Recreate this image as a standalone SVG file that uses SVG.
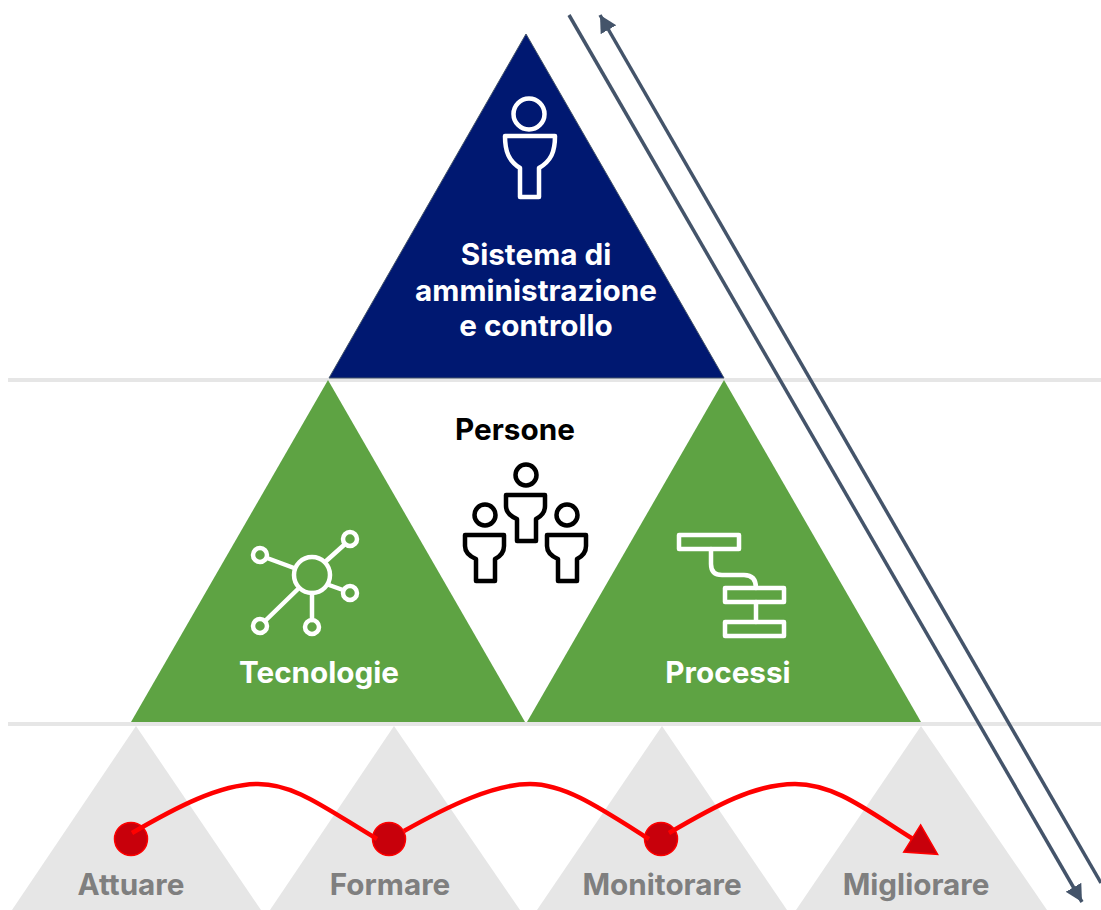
<svg xmlns="http://www.w3.org/2000/svg" width="1101" height="910" viewBox="0 0 1101 910">
<defs>
<marker id="slate" markerUnits="userSpaceOnUse" markerWidth="20" markerHeight="20" refX="17" refY="9" orient="auto"><path d="M0 0L17 9L0 18Z" fill="#44546a"/></marker>
<marker id="red" markerUnits="userSpaceOnUse" markerWidth="36" markerHeight="38" refX="3" refY="18" orient="auto"><path d="M2 2L32 18L2 34Z" fill="#c8000b" stroke="#ff0000" stroke-width="1.5"/></marker>
</defs>
<style>
text{font-family:Inter,"Liberation Sans",sans-serif;font-weight:700;text-anchor:middle;font-size:29.7px}
.w{fill:#fff}
.g{fill:#7f7f7f}
.rule{stroke:#e6e6e6;stroke-width:4;fill:none}
.tg{fill:#e6e6e6}
.tv{fill:#5ea343}
.iw{fill:none;stroke:#fff;stroke-width:4.5;stroke-linejoin:round;stroke-linecap:round}
.ib{fill:none;stroke:#000;stroke-width:4.5;stroke-linejoin:round;stroke-linecap:round}
.dot{fill:#c8000b;stroke:#ff0000;stroke-width:1.5}
.arrow{fill:none;stroke:#44546a;stroke-width:3.5}
</style>
<g id="rules">
<path class="rule" d="M8 380H1101M8 724H1101"/>
</g>
<g id="node-attuare"><path class="tg" d="M136 726L261 910H12Z"/><text class="g" x="131" y="895">Attuare</text></g>
<g id="node-formare"><path class="tg" d="M394 726L520 910H270Z"/><text class="g" x="390" y="895">Formare</text></g>
<g id="node-monitorare"><path class="tg" d="M662 726L787 910H537Z"/><text class="g" x="662" y="895">Monitorare</text></g>
<g id="node-migliorare"><path class="tg" d="M921 726L1047 910H796Z"/><text class="g" x="916" y="895">Migliorare</text></g>
<g id="node-sistema">
<path d="M526 34L724 378H329Z" fill="#001871" stroke="#44546a" stroke-width="1"/>
<circle class="iw" cx="529" cy="114" r="15.5"/>
<path class="iw" d="M505 136H555C555 152 551 161 539 168V197H520V168C509 161 505 152 505 136Z"/>
<text class="w" x="536" y="265">Sistema di</text>
<text class="w" x="536" y="301">amministrazione</text>
<text class="w" x="536" y="336">e controllo</text>
</g>
<g id="node-tecnologie">
<path class="tv" d="M328 380L525 722H131Z"/>
<g class="iw">
<circle cx="312" cy="575" r="18"/>
<circle cx="260" cy="555" r="7"/>
<circle cx="350" cy="539" r="7"/>
<circle cx="350" cy="593" r="7"/>
<circle cx="260" cy="626" r="7"/>
<circle cx="312" cy="627" r="7"/>
<path d="M267 558L294 568M325 562L344 545M329 585L343 590M298 589L265 621M312 593V620"/>
</g>
<text class="w" x="319" y="683">Tecnologie</text>
</g>
<g id="node-persone">
<text x="515" y="440" fill="#000">Persone</text>
<g class="ib">
<circle cx="526" cy="475" r="10.5"/>
<path d="M506 495H545V506C545 512 542 516 536 519V541H517V519C510 516 506 512 506 506Z"/>
<circle cx="485" cy="515" r="10.5"/>
<path d="M465 535H504V546C504 552 501 556 495 559V581H476V559C469 556 465 552 465 546Z"/>
<circle cx="567" cy="515" r="10.5"/>
<path d="M547 535H586V546C586 552 583 556 577 559V581H558V559C551 556 547 552 547 546Z"/>
</g>
</g>
<g id="node-processi">
<path class="tv" d="M724 380L921 722H527Z"/>
<g class="iw">
<rect x="679" y="535" width="60" height="14"/>
<rect x="725" y="588" width="59" height="14"/>
<rect x="725" y="622" width="59" height="14"/>
<path d="M711 549V564Q711 575 722 575H744Q756 575 756 588M756 602V622"/>
</g>
<text class="w" x="728" y="683">Processi</text>
</g>
<g id="connectors">
<path class="arrow" d="M569 15L1082 902" marker-end="url(#slate)"/>
<path class="arrow" d="M1101 883L600 15" marker-end="url(#slate)"/>
<circle class="dot" cx="131" cy="839" r="16.5"/>
<circle class="dot" cx="389" cy="839" r="16.5"/>
<circle class="dot" cx="661" cy="839" r="16.5"/>
<g fill="none" stroke="#ff0000" stroke-width="4.5">
<path d="M132 833C175 808 220 784 258 784C295 784 325 808 377 839"/>
<path d="M404 831C450 805 495 784 530 784C565 784 600 808 649 839"/>
<path d="M669 833C715 806 755 784 795 784C835 784 868 811 913 839" marker-end="url(#red)"/>
</g>
</g>
</svg>
